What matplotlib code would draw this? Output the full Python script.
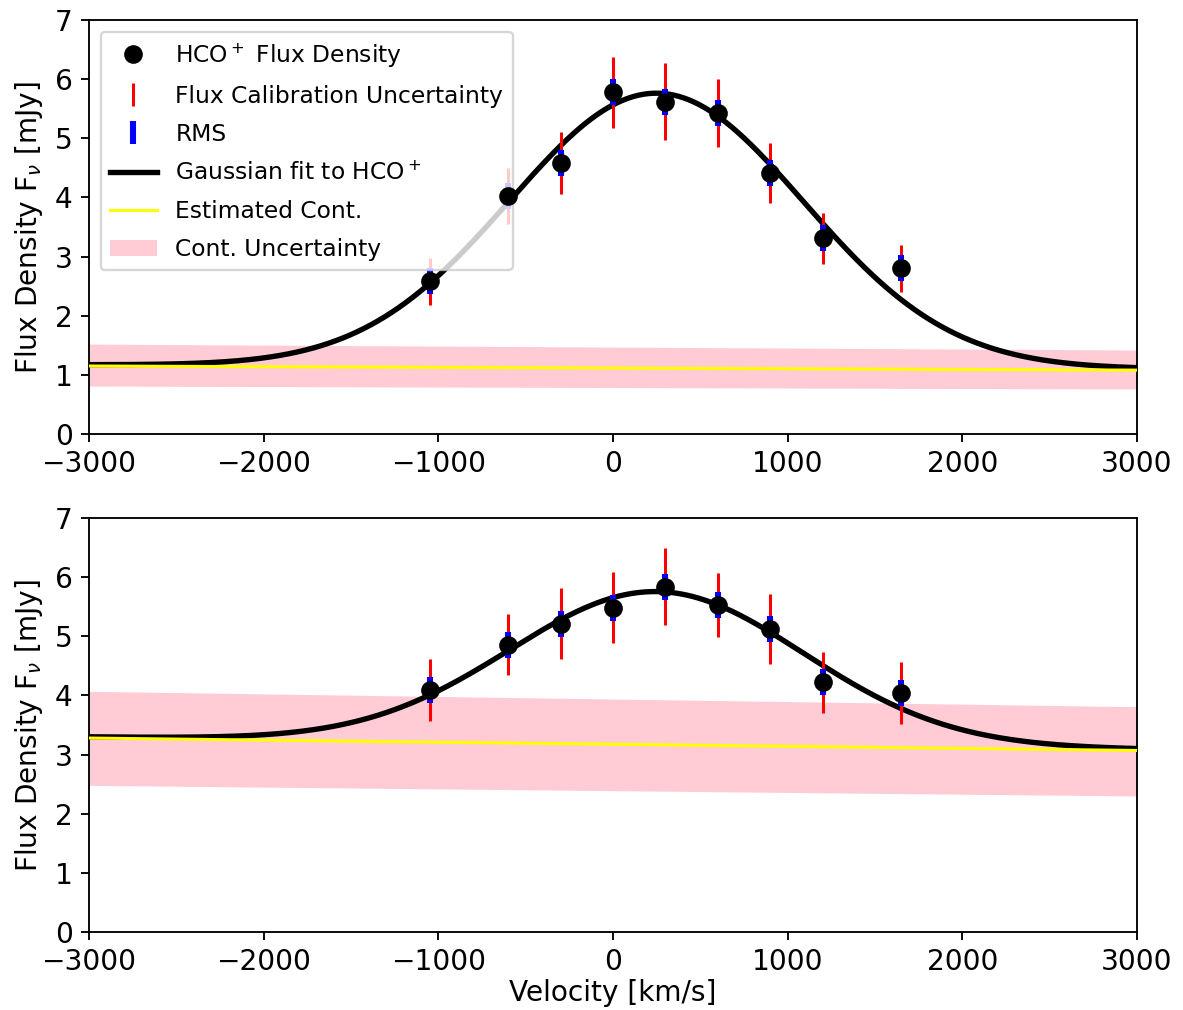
import matplotlib
matplotlib.use('Agg')
import matplotlib.pyplot as plt
import numpy as np

# channel velocities (km/s)
vel = [-1050, -600, -300, 0, 300, 600, 900, 1200, 1650]

# top panel: flux density, calibration and rms uncertainties (mJy)
flux_top = [2.58, 4.02, 4.58, 5.78, 5.62, 5.43, 4.41, 3.31, 2.80]
cal_top = [0.40, 0.47, 0.52, 0.60, 0.65, 0.57, 0.51, 0.43, 0.40]
rms_top = [0.22, 0.22, 0.22, 0.22, 0.22, 0.22, 0.22, 0.22, 0.22]

# bottom panel
flux_bot = [4.09, 4.86, 5.21, 5.48, 5.84, 5.53, 5.12, 4.22, 4.04]
cal_bot = [0.53, 0.52, 0.60, 0.60, 0.65, 0.54, 0.59, 0.52, 0.52]
rms_bot = [0.22, 0.22, 0.22, 0.22, 0.22, 0.22, 0.22, 0.22, 0.22]

# continuum estimate at the band edges, with its uncertainty range
cont_v = [-3000, 3000]
cont_top = [1.15, 1.08]
cont_top_lo = [0.81, 0.76]
cont_top_hi = [1.52, 1.42]
cont_bot = [3.28, 3.07]
cont_bot_lo = [2.48, 2.30]
cont_bot_hi = [4.07, 3.81]

# gaussian fit parameters: amplitude, centre, sigma (km/s)
gauss_top = (4.63, 250.0, 840.0)
gauss_bot = (2.57, 250.0, 840.0)


def draw_panel(ax, flux, cal, rms, cont, lo, hi, gpar, legend=False):
    ax.fill_between(cont_v, lo, hi, color='pink', alpha=0.8, lw=0, zorder=1,
                    label='Cont. Uncertainty')
    vv = np.linspace(-3000, 3000, 600)
    base = np.interp(vv, cont_v, cont) + 0.02
    amp, mu, sig = gpar
    model = base + amp * np.exp(-(vv - mu) ** 2 / (2 * sig ** 2))
    ax.plot(vv, model, color='k', lw=2.3, zorder=2,
            label=r'Gaussian fit to HCO$^+$')
    ax.plot(cont_v, cont, color='yellow', lw=1.3, zorder=3,
            label='Estimated Cont.')
    ax.errorbar(vel, flux, yerr=cal, fmt='none', ecolor='red',
                elinewidth=1.3, zorder=4, label='Flux Calibration Uncertainty')
    ax.errorbar(vel, flux, yerr=rms, fmt='none', ecolor='blue',
                elinewidth=2.6, zorder=5, label='RMS')
    ax.plot(vel, flux, 'o', color='k', ms=7, zorder=6,
            label=r'HCO$^+$ Flux Density')
    ax.set_xlim(-3000, 3000)
    ax.set_ylim(0, 7)
    ax.set_ylabel(r'Flux Density F$_\nu$ [mJy]', fontsize=12)
    ax.tick_params(labelsize=12)
    if legend:
        h, l = ax.get_legend_handles_labels()
        order = [l.index(s) for s in [r'HCO$^+$ Flux Density',
                                      'Flux Calibration Uncertainty', 'RMS',
                                      r'Gaussian fit to HCO$^+$',
                                      'Estimated Cont.', 'Cont. Uncertainty']]
        ax.legend([h[i] for i in order], [l[i] for i in order],
                  loc='upper left', fontsize=10, labelspacing=0.65)


fig = plt.figure(figsize=(7.042, 6.012), dpi=168)
ax1 = fig.add_axes([0.0752, 0.5703, 0.8859, 0.4099])
ax2 = fig.add_axes([0.0752, 0.0772, 0.8859, 0.4099])

draw_panel(ax1, flux_top, cal_top, rms_top, cont_top, cont_top_lo,
           cont_top_hi, gauss_top, legend=True)
draw_panel(ax2, flux_bot, cal_bot, rms_bot, cont_bot, cont_bot_lo,
           cont_bot_hi, gauss_bot)
ax2.set_xlabel('Velocity [km/s]', fontsize=12, labelpad=1)

fig.savefig('out.png', dpi=168)
